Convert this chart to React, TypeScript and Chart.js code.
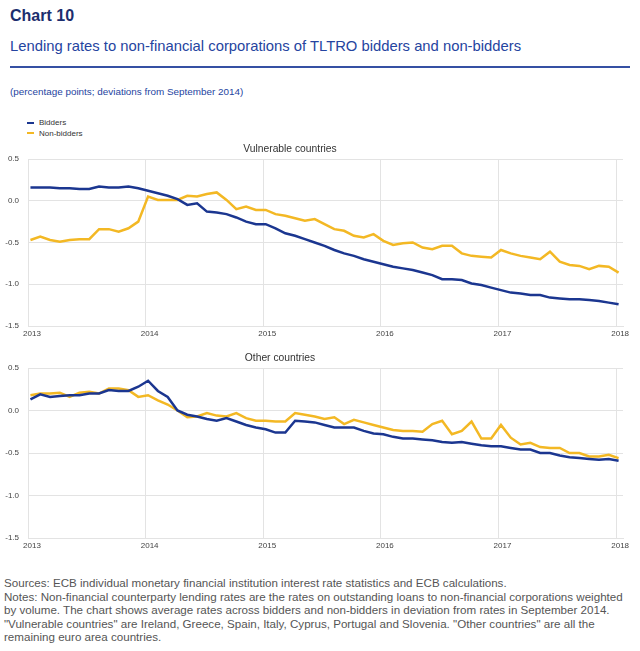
import React, { useEffect, useRef } from "react";
import { Chart, registerables } from "chart.js";
Chart.register(...registerables);

// Monthly observations, January 2013 to January 2018
const yearLabels = ["2013", "2014", "2015", "2016", "2017", "2018"];
const yTickValues = [0.5, 0.0, -0.5, -1.0, -1.5];

const vulnBidders = [
  0.16, 0.16, 0.16, 0.15, 0.15, 0.14, 0.14, 0.17, 0.16, 0.16, 0.17, 0.15,
  0.12, 0.09, 0.06, 0.02, -0.05, -0.03, -0.13, -0.14, -0.16, -0.2, -0.25, -0.28,
  -0.28, -0.33, -0.39, -0.42, -0.46, -0.5, -0.54, -0.59, -0.63, -0.66, -0.7, -0.73,
  -0.76, -0.79, -0.81, -0.83, -0.86, -0.89, -0.94, -0.94, -0.95, -0.99, -1.01, -1.04,
  -1.07, -1.1, -1.11, -1.13, -1.13, -1.16, -1.17, -1.18, -1.18, -1.19, -1.2, -1.22,
  -1.24,
];
const vulnNonBidders = [
  -0.47, -0.43, -0.47, -0.49, -0.47, -0.46, -0.46, -0.34, -0.34, -0.37, -0.33, -0.25,
  0.05, 0.01, 0.01, 0.01, 0.06, 0.05, 0.08, 0.1, 0.01, -0.1, -0.07, -0.11,
  -0.11, -0.16, -0.18, -0.21, -0.24, -0.22, -0.28, -0.34, -0.36, -0.42, -0.44, -0.4,
  -0.48, -0.53, -0.51, -0.5, -0.56, -0.58, -0.54, -0.54, -0.63, -0.66, -0.67, -0.68,
  -0.59, -0.63, -0.66, -0.68, -0.7, -0.61, -0.73, -0.77, -0.78, -0.82, -0.78, -0.79,
  -0.86,
];
const otherBidders = [
  0.13, 0.19, 0.16, 0.17, 0.18, 0.18, 0.2, 0.2, 0.24, 0.23, 0.23, 0.28,
  0.35, 0.23, 0.16, 0.0, -0.05, -0.07, -0.1, -0.12, -0.09, -0.13, -0.17, -0.2,
  -0.22, -0.26, -0.26, -0.12, -0.13, -0.14, -0.17, -0.2, -0.2, -0.2, -0.24, -0.27,
  -0.28, -0.31, -0.33, -0.33, -0.34, -0.35, -0.37, -0.38, -0.37, -0.39, -0.41, -0.42,
  -0.42, -0.44, -0.46, -0.46, -0.5, -0.5, -0.53, -0.55, -0.56, -0.57, -0.58, -0.57,
  -0.59,
];
const otherNonBidders = [
  0.18, 0.2, 0.2, 0.21, 0.16, 0.21, 0.22, 0.2, 0.26, 0.26, 0.24, 0.16,
  0.18, 0.12, 0.07, 0.0, -0.08, -0.07, -0.03, -0.06, -0.07, -0.03, -0.09, -0.12,
  -0.12, -0.13, -0.13, -0.03, -0.05, -0.07, -0.1, -0.08, -0.16, -0.11, -0.14, -0.17,
  -0.2, -0.23, -0.24, -0.24, -0.25, -0.16, -0.12, -0.28, -0.24, -0.13, -0.33, -0.33,
  -0.17, -0.32, -0.4, -0.38, -0.43, -0.44, -0.44, -0.5, -0.5, -0.54, -0.54, -0.52,
  -0.56,
];

const BLUE = "#1b3690";
const YELLOW = "#f3b824";
const GRID = "#e3e3e3";
const FONT = "'Liberation Sans', Arial, sans-serif";

const toPoints = (arr: number[]) => arr.map((v, i) => ({ x: i + 0.25, y: v }));

function makeConfig(bidders: number[], nonBidders: number[], xAxisHeight: number): any {
  return {
    type: "line",
    data: {
      datasets: [
        { label: "Bidders", data: toPoints(bidders), borderColor: BLUE, backgroundColor: BLUE, borderWidth: 2.5, pointRadius: 0, tension: 0 },
        { label: "Non-bidders", data: toPoints(nonBidders), borderColor: YELLOW, backgroundColor: YELLOW, borderWidth: 2.5, pointRadius: 0, tension: 0 },
      ],
    },
    options: {
      animation: false,
      responsive: false,
      maintainAspectRatio: false,
      layout: { padding: { top: 14, right: 17, left: 0, bottom: 0 } },
      plugins: { legend: { display: false }, tooltip: { enabled: false }, title: { display: false } },
      scales: {
        x: {
          type: "linear",
          min: 0,
          max: 60.7,
          afterBuildTicks: (scale: any) => {
            scale.ticks = yearLabels.map((_, k) => ({ value: k * 12 }));
          },
          afterFit: (scale: any) => {
            scale.height = xAxisHeight;
          },
          ticks: {
            autoSkip: false,
            maxRotation: 0,
            padding: 3,
            labelOffset: 4,
            color: "#444",
            font: { family: FONT, size: 8 },
            callback: (v: number) => yearLabels[Math.round(v / 12)],
          },
          grid: { color: GRID, drawTicks: false, lineWidth: 1 },
          border: { color: GRID },
        },
        y: {
          min: -1.5,
          max: 0.5,
          afterBuildTicks: (scale: any) => {
            scale.ticks = yTickValues.map((v) => ({ value: v }));
          },
          afterFit: (scale: any) => {
            scale.width = 28;
          },
          ticks: {
            padding: 9,
            color: "#444",
            font: { family: FONT, size: 8 },
            callback: (v: number) => Number(v).toFixed(1),
          },
          grid: { color: GRID, drawTicks: false, lineWidth: 1 },
          border: { color: GRID },
        },
      },
    },
  };
}

export default function App() {
  const topRef = useRef<HTMLCanvasElement>(null);
  const botRef = useRef<HTMLCanvasElement>(null);

  useEffect(() => {
    const c1 = new Chart(topRef.current as HTMLCanvasElement, makeConfig(vulnBidders, vulnNonBidders, 19));
    const c2 = new Chart(botRef.current as HTMLCanvasElement, makeConfig(otherBidders, otherNonBidders, 16));
    return () => {
      c1.destroy();
      c2.destroy();
    };
  }, []);

  const abs = (s: React.CSSProperties): React.CSSProperties => ({ position: "absolute", whiteSpace: "nowrap", fontFamily: FONT, ...s });

  return (
    <div style={{ position: "absolute", left: 0, top: 0, width: 640, height: 651, background: "#fff", overflow: "hidden" }}>
      <div style={abs({ left: 10, top: 8, fontSize: 16, lineHeight: "16px", fontWeight: "bold", color: "#1c2e6e" })}>Chart 10</div>
      <div style={abs({ left: 10, top: 38, fontSize: 14.8, lineHeight: "16px", color: "#2544a0" })}>
        Lending rates to non-financial corporations of TLTRO bidders and non-bidders
      </div>
      <div style={{ position: "absolute", left: 10, top: 66, width: 620, height: 2, background: "#3550a3" }} />
      <div style={abs({ left: 10, top: 87, fontSize: 9.9, lineHeight: "10px", color: "#2544a0" })}>
        (percentage points; deviations from September 2014)
      </div>

      <div style={{ position: "absolute", left: 27, top: 122, width: 7, height: 2, background: BLUE }} />
      <div style={abs({ left: 39, top: 118, fontSize: 8, lineHeight: "9px", color: "#333" })}>Bidders</div>
      <div style={{ position: "absolute", left: 27, top: 132, width: 7, height: 2, background: YELLOW }} />
      <div style={abs({ left: 39, top: 128.5, fontSize: 8, lineHeight: "9px", color: "#333" })}>Non-bidders</div>

      <canvas ref={topRef} width={640} height={200} style={{ position: "absolute", left: 0, top: 145, width: 640, height: 200 }} />
      <canvas ref={botRef} width={640} height={200} style={{ position: "absolute", left: 0, top: 354, width: 640, height: 200 }} />

      <div style={abs({ left: 0, width: 580, top: 144, textAlign: "center", fontSize: 10.3, lineHeight: "10px", color: "#333" })}>Vulnerable countries</div>
      <div style={abs({ left: 0, width: 560, top: 353, textAlign: "center", fontSize: 10.3, lineHeight: "10px", color: "#333" })}>Other countries</div>

      <div style={abs({ left: 4, top: 576, fontSize: 11.6, lineHeight: "13.5px", color: "#555" })}>
        <div>Sources: ECB individual monetary financial institution interest rate statistics and ECB calculations.</div>
        <div>Notes: Non-financial counterparty lending rates are the rates on outstanding loans to non-financial corporations weighted</div>
        <div>by volume. The chart shows average rates across bidders and non-bidders in deviation from rates in September 2014.</div>
        <div>"Vulnerable countries" are Ireland, Greece, Spain, Italy, Cyprus, Portugal and Slovenia. "Other countries" are all the</div>
        <div>remaining euro area countries.</div>
      </div>
    </div>
  );
}
